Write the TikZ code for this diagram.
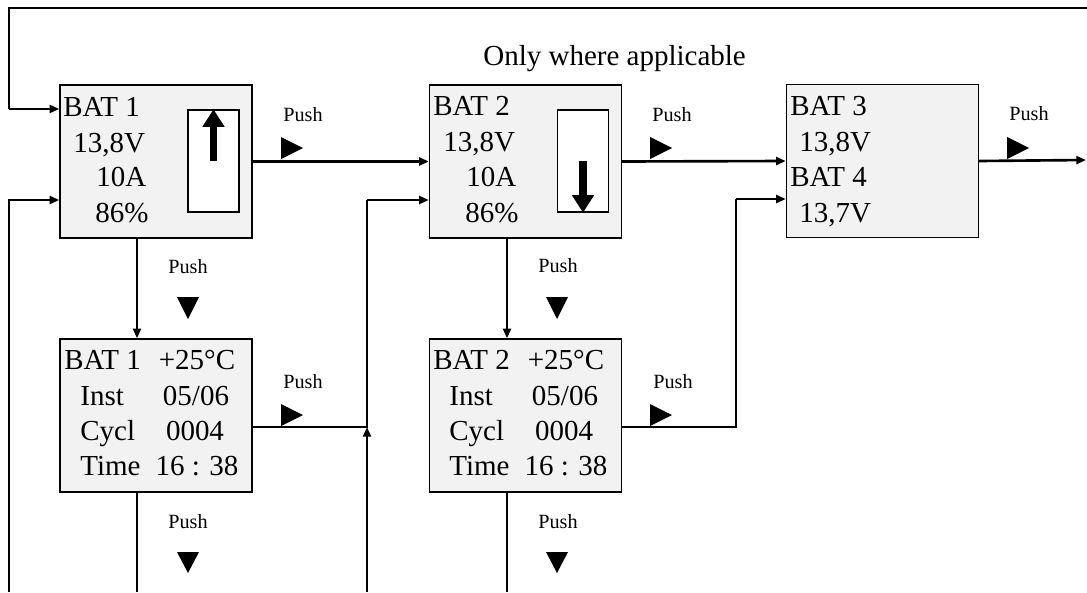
\documentclass[tikz,border=0pt]{standalone}
\usepackage{fontspec}
\setmainfont{Liberation Serif}
\usetikzlibrary{arrows.meta}
\definecolor{boxgray}{RGB}{242,242,242}

\tikzset{
  panel/.style={draw, line width=0.8pt, fill=boxgray, minimum width=3.84cm, minimum height=3.06cm, inner sep=0pt},
  gauge/.style={draw, line width=0.8pt, fill=white, minimum width=1.02cm, minimum height=2.04cm, inner sep=0pt},
  txt/.style={anchor=base west, inner sep=0pt, font=\fontsize{16.5}{19}\selectfont},
  coltxt/.style={txt, anchor=base},
  pushtxt/.style={anchor=base west, inner sep=0pt, font=\fontsize{11.5}{13}\selectfont},
  wire/.style={line width=1.5pt},
  thinwire/.style={line width=0.9pt},
  tip/.style={-{Triangle[length=5.5pt,width=4.5pt]}},
  bigarrow/.style={line width=4pt, -{Triangle[length=10pt,width=12pt]}},
}

\begin{document}
\begin{tikzpicture}[x=0.02cm,y=-0.02cm]
    \useasboundingbox (0,0) rectangle (1087,592);

    % panels
    \node[panel] (b1) at (156,161.5) {};
    \node[panel] (b2) at (525.5,161.5) {};
    \node[panel] (b3) at (882.5,161) {};
    \node[panel] (d1) at (156,415.5) {};
    \node[panel] (d2) at (525.5,415.5) {};

    % gauges
    \node[gauge] (g1) at (213.5,161) {};
    \node[gauge] (g2) at (583,161) {};
    \draw[bigarrow] (g1.center) -- (g1.north);
    \draw[bigarrow] (g2.center) -- (g2.south);

    % panel texts
    \node[txt] (b1l1) at (63,116) {BAT 1};
    \node[txt] (b1l2) at (73,152) {13,8V};
    \node[txt] (b1l3) at (96,186) {10A};
    \node[txt] (b1l4) at (95,222) {86\%};

    \node[txt] (b2l1) at (433,115) {BAT 2};
    \node[txt] (b2l2) at (443,151) {13,8V};
    \node[txt] (b2l3) at (466,186) {10A};
    \node[txt] (b2l4) at (465,222) {86\%};

    \node[txt] (b3l1) at (790,115) {BAT 3};
    \node[txt] (b3l2) at (799,151) {13,8V};
    \node[txt] (b3l3) at (790,186) {BAT 4};
    \node[txt] (b3l4) at (799,222) {13,7V};

    \node[txt] (d1l1) at (64,369) {BAT 1};
    \node[txt] (d1l2) at (80,405) {Inst};
    \node[txt] (d1l3) at (80,440) {Cycl};
    \node[txt] (d1l4) at (80,475) {Time};
    \node[coltxt] (d1r1) at (197,369) {+25°C};
    \node[coltxt] (d1r2) at (196,405) {05/06};
    \node[coltxt] (d1r3) at (195,440) {0004};
    \node[coltxt] (d1r4) at (197,475) {16 : 38};

    \node[txt] (d2l1) at (433,369) {BAT 2};
    \node[txt] (d2l2) at (449,405) {Inst};
    \node[txt] (d2l3) at (449,440) {Cycl};
    \node[txt] (d2l4) at (449,475) {Time};
    \node[coltxt] (d2r1) at (566,369) {+25°C};
    \node[coltxt] (d2r2) at (565,405) {05/06};
    \node[coltxt] (d2r3) at (564,440) {0004};
    \node[coltxt] (d2r4) at (566,475) {16 : 38};

    \node[txt] (note) at (483,65) {Only where applicable};

    % push labels
    \node[pushtxt] (p1) at (283,121) {Push};
    \node[pushtxt] (p2) at (652,121) {Push};
    \node[pushtxt] (p3) at (1009,120) {Push};
    \node[pushtxt] (p4) at (168,273) {Push};
    \node[pushtxt] (p5) at (538,272) {Push};
    \node[pushtxt] (p6) at (283,388) {Push};
    \node[pushtxt] (p7) at (653,388) {Push};
    \node[pushtxt] (p8) at (168,528) {Push};
    \node[pushtxt] (p9) at (538,528) {Push};

    \fill (281,137) -- (303,148) -- (281,159) -- cycle;
    \fill (650,137) -- (672,148) -- (650,159) -- cycle;
    \fill (1007,137) -- (1029,148) -- (1007,159) -- cycle;
    \fill (281,404) -- (303,415) -- (281,426) -- cycle;
    \fill (650,404) -- (672,415) -- (650,426) -- cycle;
    \fill (177,297) -- (199,297) -- (188,319) -- cycle;
    \fill (546,297) -- (568,297) -- (557,319) -- cycle;
    \fill (177,552) -- (199,552) -- (188,573) -- cycle;
    \fill (546,552) -- (568,552) -- (557,573) -- cycle;

    % return paths
    \coordinate (topr) at (1087,8);
    \coordinate (topl) at (9,8);
    \coordinate (in1) at (9,109);
    \coordinate (in2) at (9,200);
    \coordinate (bl) at (9,592);
    \coordinate (out) at (1086,160);
    \coordinate (v1) at (137,592);
    \coordinate (v2) at (507,592);
    \coordinate (m1) at (367,427);
    \coordinate (m1t) at (367,200);
    \coordinate (m1b) at (367,592);
    \coordinate (m2) at (736,427);
    \coordinate (m2t) at (736,199);

    \draw[thinwire] (topr) -- (topl) -- (in1);
    \draw[wire,tip] (in1) -- (in1 -| b1.west);
    \draw[wire,tip] (bl) -- (in2) -- (in2 -| b1.west);

    % forward paths
    \draw[wire,tip] (b1.east) -- (b2.west);
    \draw[wire,tip] (b2.east) -- (b3.west);
    \draw[wire,tip] (b3.east) -- (out);
    \draw[wire,tip] (b1.south -| v1) -- (d1.north -| v1);
    \draw[wire,tip] (b2.south -| v2) -- (d2.north -| v2);
    \draw[thinwire] (d1.south -| v1) -- (v1);
    \draw[thinwire] (d2.south -| v2) -- (v2);

    \draw[thinwire] (d1.east |- m1) -- (m1) -- (m1t);
    \draw[wire,tip] (m1b) -- (m1);
    \draw[wire,tip] (m1t) -- (m1t -| b2.west);

    \draw[thinwire] (d2.east |- m2) -- (m2) -- (m2t);
    \draw[wire,tip] (m2t) -- (m2t -| b3.west);
\end{tikzpicture}
\end{document}
